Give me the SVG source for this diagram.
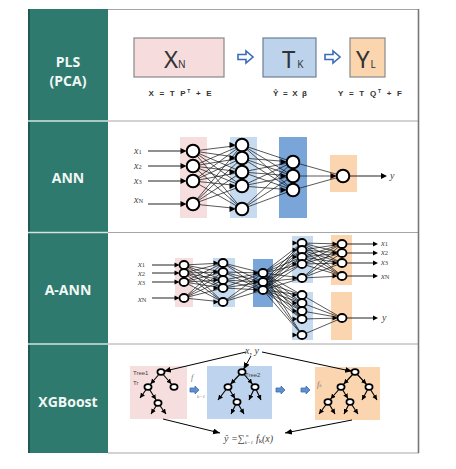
<svg xmlns="http://www.w3.org/2000/svg" xmlns:xlink="http://www.w3.org/1999/xlink" width="456" height="469" viewBox="0 0 456 469">
<style>
.lbl{font-family:"Open Sans","Liberation Sans",sans-serif;font-weight:bold;font-size:14px;fill:#f2f7f5;text-anchor:middle}
.big{font-family:"Noto Sans","Liberation Sans",sans-serif;fill:#333;font-size:24px}
.sub{font-size:10px}
.eq{font-family:"Liberation Sans",sans-serif;font-weight:bold;font-size:8px;fill:#333;text-anchor:middle}
.xi{font-family:"Liberation Serif",serif;font-style:italic;font-size:10px;fill:#444}
.xa{font-family:"Liberation Serif",serif;font-style:italic;font-size:8.5px;fill:#444}
.xs{font-size:6.5px;font-style:normal}
.conn{stroke:#111;stroke-width:0.7;fill:none}
.io{stroke:#222;stroke-width:1.1;fill:none}
.n{fill:#fff;stroke:#000;stroke-width:2}
.n2{fill:#fff;stroke:#000;stroke-width:1.8}
.tn{fill:#fff;stroke:#000;stroke-width:1.7}
.e{stroke:#000;stroke-width:1.1;fill:none}
.ea{stroke:#000;stroke-width:1;fill:none}
.pink{fill:#f6dede}
.lb{fill:#c6daf0}
.db{fill:#7aa5d9}
.or{fill:#fbd5b0}
.tiny{font-family:"Liberation Sans",sans-serif;font-size:6px;fill:#444}
.fi{font-family:"Liberation Serif",serif;font-style:italic;fill:#777}
</style>
<defs>
<path id="ah" d="M0 0L-6 -3L-6 3Z" fill="#000"/>
<path id="ah2" d="M0 0L-5 -2.5L-5 2.5Z" fill="#000"/>
<marker id="mn" markerUnits="userSpaceOnUse" markerWidth="10" markerHeight="6" refX="9" refY="2.5" orient="auto"><path d="M0 0L5 2.5L0 5Z" fill="#000"/></marker>
<marker id="ml" markerUnits="userSpaceOnUse" markerWidth="10" markerHeight="6" refX="5" refY="2.5" orient="auto"><path d="M0 0L5 2.5L0 5Z" fill="#000"/></marker>
<marker id="mb" markerUnits="userSpaceOnUse" markerWidth="10" markerHeight="8" refX="7" refY="3" orient="auto"><path d="M0 0L7 3L0 6Z" fill="#000"/></marker>
<marker id="mbn" markerUnits="userSpaceOnUse" markerWidth="12" markerHeight="8" refX="10" refY="3" orient="auto"><path d="M0 0L7 3L0 6Z" fill="#000"/></marker>
</defs>
<rect width="456" height="469" fill="#fff"/>

<g id="table">
<rect x="28" y="9" width="80" height="444" fill="#2e7a6e"/>
<rect x="28" y="9" width="2" height="444" fill="#1d5b52"/>
<path d="M28 121H108M28 232.5H108M28 344H108" stroke="#d4e4e0" stroke-width="1.5"/>
<path d="M108 9.5H419M108 121H419M108 232.5H419M108 344H419M108 453H419" stroke="#a6a6a6" stroke-width="1"/>
<path d="M418.5 9V453" stroke="#777" stroke-width="1.6"/>
<text class="lbl" x="68" y="67">PLS</text>
<text class="lbl" x="68" y="86">(PCA)</text>
<text class="lbl" x="68" y="183">ANN</text>
<text class="lbl" x="68" y="295">A-ANN</text>
<text class="lbl" x="68" y="407">XGBoost</text>
</g>

<g id="pls">
<g id="node-xn">
<rect x="134" y="38" width="90" height="39" fill="#f6dcdc" stroke="#888" stroke-width="1.2"/>
<text class="big" x="164" y="68">X<tspan class="sub">N</tspan></text>
</g>
<g id="node-tk">
<rect x="263" y="38" width="53" height="39" fill="#bdd3ec" stroke="#6d7f96" stroke-width="1.2"/>
<text class="big" x="282" y="68">T<tspan class="sub" dx="2">K</tspan></text>
</g>
<g id="node-yl">
<rect x="350" y="38" width="35" height="39" fill="#fbd5ae" stroke="#8a8a8a" stroke-width="1.2"/>
<text class="big" x="356" y="68">Y<tspan class="sub" dx="1">L</tspan></text>
</g>
<polygon points="238,54.5 246,54.5 246,51 253,57 246,63 246,59.5 238,59.5" fill="#fff" stroke="#3a6db5" stroke-width="1.6"/>
<polygon points="325,54.5 333,54.5 333,51 340,57 333,63 333,59.5 325,59.5" fill="#fff" stroke="#3a6db5" stroke-width="1.6"/>
<text class="eq" x="180" y="96" textLength="63" lengthAdjust="spacing">X = T P<tspan font-size="5" dy="-3">T</tspan><tspan dy="3"> + E</tspan></text>
<text class="eq" x="290" y="96" textLength="34" lengthAdjust="spacing">Ŷ = X β</text>
<text class="eq" x="370" y="96" textLength="64" lengthAdjust="spacing">Y = T Q<tspan font-size="5" dy="-3">T</tspan><tspan dy="3"> + F</tspan></text>
</g>

<g id="ann">
<rect class="pink" x="180" y="137" width="27" height="81"/>
<rect class="lb" x="230" y="137" width="27" height="81"/>
<rect class="db" x="279" y="137" width="28" height="81"/>
<rect class="or" x="330" y="155" width="27" height="37"/>
<g id="ann-connectors">
<path class="conn" d="M193 151L242 145M193 151L242 158M193 151L242 172M193 151L242 186M193 151L242 209M193 166L242 145M193 166L242 158M193 166L242 172M193 166L242 186M193 166L242 209M193 181L242 145M193 181L242 158M193 181L242 172M193 181L242 186M193 181L242 209M193 204L242 145M193 204L242 158M193 204L242 172M193 204L242 186M193 204L242 209"/>
<path class="conn" d="M242 145L293 162M242 145L293 176M242 145L293 190M242 158L293 162M242 158L293 176M242 158L293 190M242 172L293 162M242 172L293 176M242 172L293 190M242 186L293 162M242 186L293 176M242 186L293 190M242 209L293 162M242 209L293 176M242 209L293 190"/>
<path class="conn" d="M293 162L343 176M293 176L343 176M293 190L343 176"/>
<path class="io" d="M148 151H182M148 166H182M148 181H182M148 204H182M350 176H382"/>
<use xlink:href="#ah" x="186.5" y="151"/><use xlink:href="#ah" x="186.5" y="166"/><use xlink:href="#ah" x="186.5" y="181"/><use xlink:href="#ah" x="186.5" y="204"/>
<use xlink:href="#ah" x="235.5" y="145"/><use xlink:href="#ah" x="235.5" y="158"/><use xlink:href="#ah" x="235.5" y="172"/><use xlink:href="#ah" x="235.5" y="186"/><use xlink:href="#ah" x="235.5" y="209"/>
<use xlink:href="#ah" x="286.5" y="162"/><use xlink:href="#ah" x="286.5" y="176"/><use xlink:href="#ah" x="286.5" y="190"/>
<use xlink:href="#ah" x="336.5" y="176"/>
<use xlink:href="#ah" x="387" y="176"/>
</g>
<g id="ann-nodes">
<circle class="n" cx="193" cy="151" r="6.3"/><circle class="n" cx="193" cy="166" r="6.3"/><circle class="n" cx="193" cy="181" r="6.3"/><circle class="n" cx="193" cy="204" r="6.3"/>
<circle class="n" cx="242" cy="145" r="6.3"/><circle class="n" cx="242" cy="158" r="6.3"/><circle class="n" cx="242" cy="172" r="6.3"/><circle class="n" cx="242" cy="186" r="6.3"/><circle class="n" cx="242" cy="209" r="6.3"/>
<circle class="n" cx="293" cy="162" r="6.3"/><circle class="n" cx="293" cy="176" r="6.3"/><circle class="n" cx="293" cy="190" r="6.3"/>
<circle class="n" cx="343" cy="176" r="6.3"/>
</g>
<text class="xi" x="134" y="154">x<tspan class="xs">1</tspan></text>
<text class="xi" x="134" y="169">x<tspan class="xs">2</tspan></text>
<text class="xi" x="134" y="184">x<tspan class="xs">3</tspan></text>
<text class="xi" x="134" y="203">x<tspan class="xs">N</tspan></text>
<text class="xi" x="390" y="179">y</text>
</g>

<g id="a-ann">
<rect class="pink" x="175" y="258" width="18" height="49"/>
<rect class="lb" x="213" y="258" width="22" height="49"/>
<rect class="db" x="253" y="259" width="20" height="48"/>
<rect class="lb" x="292" y="236" width="21" height="47"/>
<rect class="lb" x="292" y="292" width="21" height="48"/>
<rect class="or" x="331" y="235" width="21" height="50"/>
<rect class="or" x="331" y="292" width="21" height="48"/>
<g id="a-ann-connectors">
<path class="conn" d="M184 265L223 263M184 265L223 272M184 265L223 280M184 265L223 288M184 265L223 302M184 273L223 263M184 273L223 272M184 273L223 280M184 273L223 288M184 273L223 302M184 282L223 263M184 282L223 272M184 282L223 280M184 282L223 288M184 282L223 302M184 298L223 263M184 298L223 272M184 298L223 280M184 298L223 288M184 298L223 302"/>
<path class="conn" d="M223 263L263 273M223 263L263 282M223 263L263 290M223 272L263 273M223 272L263 282M223 272L263 290M223 280L263 273M223 280L263 282M223 280L263 290M223 288L263 273M223 288L263 282M223 288L263 290M223 302L263 273M223 302L263 282M223 302L263 290"/>
<path class="conn" d="M263 273L302 243M263 273L302 250M263 273L302 257M263 273L302 264M263 273L302 278M263 282L302 243M263 282L302 250M263 282L302 257M263 282L302 264M263 282L302 278M263 290L302 243M263 290L302 250M263 290L302 257M263 290L302 264M263 290L302 278M263 273L302 295M263 273L302 303M263 273L302 311M263 273L302 319M263 273L302 335M263 282L302 295M263 282L302 303M263 282L302 311M263 282L302 319M263 282L302 335M263 290L302 295M263 290L302 303M263 290L302 311M263 290L302 319M263 290L302 335"/>
<path class="conn" d="M302 243L342 244M302 243L342 253M302 243L342 263M302 243L342 276M302 250L342 244M302 250L342 253M302 250L342 263M302 250L342 276M302 257L342 244M302 257L342 253M302 257L342 263M302 257L342 276M302 264L342 244M302 264L342 253M302 264L342 263M302 264L342 276M302 278L342 244M302 278L342 253M302 278L342 263M302 278L342 276"/>
<path class="conn" d="M302 295L342 318M302 303L342 318M302 311L342 318M302 319L342 318M302 335L342 318"/>
<path class="io" d="M152 265H176M152 273H176M152 282H176M152 298H176M346 244H373M346 253H373M346 263H373M346 276H373M346 318H373"/>
<use xlink:href="#ah2" x="179.5" y="265"/><use xlink:href="#ah2" x="179.5" y="273"/><use xlink:href="#ah2" x="179.5" y="282"/><use xlink:href="#ah2" x="179.5" y="298"/>
<use xlink:href="#ah2" x="218.5" y="263"/><use xlink:href="#ah2" x="218.5" y="272"/><use xlink:href="#ah2" x="218.5" y="280"/><use xlink:href="#ah2" x="218.5" y="288"/><use xlink:href="#ah2" x="218.5" y="302"/>
<use xlink:href="#ah2" x="258.5" y="273"/><use xlink:href="#ah2" x="258.5" y="282"/><use xlink:href="#ah2" x="258.5" y="290"/>
<use xlink:href="#ah2" x="297.5" y="243"/><use xlink:href="#ah2" x="297.5" y="250"/><use xlink:href="#ah2" x="297.5" y="257"/><use xlink:href="#ah2" x="297.5" y="264"/><use xlink:href="#ah2" x="297.5" y="278"/>
<use xlink:href="#ah2" x="297.5" y="295"/><use xlink:href="#ah2" x="297.5" y="303"/><use xlink:href="#ah2" x="297.5" y="311"/><use xlink:href="#ah2" x="297.5" y="319"/><use xlink:href="#ah2" x="297.5" y="335"/>
<use xlink:href="#ah2" x="337.5" y="244"/><use xlink:href="#ah2" x="337.5" y="253"/><use xlink:href="#ah2" x="337.5" y="263"/><use xlink:href="#ah2" x="337.5" y="276"/><use xlink:href="#ah2" x="337.5" y="318"/>
<use xlink:href="#ah2" x="378" y="244"/><use xlink:href="#ah2" x="378" y="253"/><use xlink:href="#ah2" x="378" y="263"/><use xlink:href="#ah2" x="378" y="276"/><use xlink:href="#ah2" x="378" y="318"/>
</g>
<g id="a-ann-nodes">
<ellipse class="n2" cx="184" cy="265" rx="4.5" ry="4"/><ellipse class="n2" cx="184" cy="273" rx="4.5" ry="4"/><ellipse class="n2" cx="184" cy="282" rx="4.5" ry="4"/><ellipse class="n2" cx="184" cy="298" rx="4.5" ry="4"/>
<ellipse class="n2" cx="223" cy="263" rx="4.5" ry="4"/><ellipse class="n2" cx="223" cy="272" rx="4.5" ry="4"/><ellipse class="n2" cx="223" cy="280" rx="4.5" ry="4"/><ellipse class="n2" cx="223" cy="288" rx="4.5" ry="4"/><ellipse class="n2" cx="223" cy="302" rx="4.5" ry="4"/>
<ellipse class="n2" cx="263" cy="273" rx="4.5" ry="4"/><ellipse class="n2" cx="263" cy="282" rx="4.5" ry="4"/><ellipse class="n2" cx="263" cy="290" rx="4.5" ry="4"/>
<ellipse class="n2" cx="302" cy="243" rx="4.5" ry="4"/><ellipse class="n2" cx="302" cy="250" rx="4.5" ry="4"/><ellipse class="n2" cx="302" cy="257" rx="4.5" ry="4"/><ellipse class="n2" cx="302" cy="264" rx="4.5" ry="4"/><ellipse class="n2" cx="302" cy="278" rx="4.5" ry="4"/>
<ellipse class="n2" cx="302" cy="295" rx="4.5" ry="4"/><ellipse class="n2" cx="302" cy="303" rx="4.5" ry="4"/><ellipse class="n2" cx="302" cy="311" rx="4.5" ry="4"/><ellipse class="n2" cx="302" cy="319" rx="4.5" ry="4"/><ellipse class="n2" cx="302" cy="335" rx="4.5" ry="4"/>
<ellipse class="n2" cx="342" cy="244" rx="4.5" ry="4"/><ellipse class="n2" cx="342" cy="253" rx="4.5" ry="4"/><ellipse class="n2" cx="342" cy="263" rx="4.5" ry="4"/><ellipse class="n2" cx="342" cy="276" rx="4.5" ry="4"/>
<ellipse class="n2" cx="342" cy="318" rx="4.5" ry="4"/>
</g>
<text class="xa" x="138" y="267">x<tspan class="xs">1</tspan></text>
<text class="xa" x="138" y="276">x<tspan class="xs">2</tspan></text>
<text class="xa" x="138" y="285">x<tspan class="xs">3</tspan></text>
<text class="xa" x="138" y="302">x<tspan class="xs">N</tspan></text>
<text class="xa" x="381" y="246">x<tspan class="xs">1</tspan></text>
<text class="xa" x="381" y="255">x<tspan class="xs">2</tspan></text>
<text class="xa" x="381" y="265">x<tspan class="xs">3</tspan></text>
<text class="xa" x="381" y="279">x<tspan class="xs">N</tspan></text>
<text class="xi" x="382" y="321">y</text>
</g>

<g id="xgboost">
<rect class="pink" x="130" y="366" width="57" height="53"/>
<rect fill="#bed4ee" x="207" y="366" width="65" height="53"/>
<rect class="or" x="315" y="367" width="65" height="53"/>
<text class="tiny" x="133" y="375">Tree1</text>
<text class="tiny" x="133" y="385">Tr</text>
<text class="tiny" x="245" y="377">Tree2</text>
<text class="fi" x="191" y="380" font-size="8">f</text>
<text class="fi" x="197" y="398" font-size="5">k−1</text>
<text class="fi" x="317" y="387" font-size="8">f<tspan font-size="5">k</tspan></text>
<polygon points="190,388 195,388 195,386 199,390 195,394 195,392 190,392" fill="#5f8fcf" stroke="#3b6db3" stroke-width="0.8"/>
<polygon points="276,388 281,388 281,386 285,390 281,394 281,392 276,392" fill="#5f8fcf" stroke="#3b6db3" stroke-width="0.8"/>
<polygon points="301,388 306,388 306,386 310,390 306,394 306,392 301,392" fill="#5f8fcf" stroke="#3b6db3" stroke-width="0.8"/>
<g id="xgb-connectors">
<path class="ea" d="M246 352L161 372" marker-end="url(#mbn)"/>
<path class="ea" d="M262 352L355 372" marker-end="url(#mbn)"/>
<path class="ea" d="M251 356L242 372" marker-end="url(#mbn)"/>
<path class="ea" d="M163 419L220 433" marker-end="url(#mb)"/>
<path class="ea" d="M352 420L285 433" marker-end="url(#mb)"/>
<path class="e" d="M161 372L148 387" marker-end="url(#mn)"/>
<path class="e" d="M161 372L174 387" marker-end="url(#mn)"/>
<path class="e" d="M148 387L140 398" marker-end="url(#ml)"/>
<path class="e" d="M148 387L158 403" marker-end="url(#mn)"/>
<path class="e" d="M158 403L151 414" marker-end="url(#ml)"/>
<path class="e" d="M158 403L166 414" marker-end="url(#ml)"/>
<path class="e" d="M242 372L228 387" marker-end="url(#mn)"/>
<path class="e" d="M242 372L255 387" marker-end="url(#mn)"/>
<path class="e" d="M228 387L218 400" marker-end="url(#ml)"/>
<path class="e" d="M228 387L237 402" marker-end="url(#mn)"/>
<path class="e" d="M237 402L231 414" marker-end="url(#ml)"/>
<path class="e" d="M237 402L244 414" marker-end="url(#ml)"/>
<path class="e" d="M255 387L249 400" marker-end="url(#ml)"/>
<path class="e" d="M255 387L261 400" marker-end="url(#ml)"/>
<path class="e" d="M355 372L341 387" marker-end="url(#mn)"/>
<path class="e" d="M355 372L369 387" marker-end="url(#mn)"/>
<path class="e" d="M341 387L328 402" marker-end="url(#mn)"/>
<path class="e" d="M341 387L350 402" marker-end="url(#mn)"/>
<path class="e" d="M328 402L319 414" marker-end="url(#ml)"/>
<path class="e" d="M328 402L335 414" marker-end="url(#ml)"/>
<path class="e" d="M350 402L344 414" marker-end="url(#ml)"/>
<path class="e" d="M350 402L358 414" marker-end="url(#ml)"/>
<path class="e" d="M369 387L362 400" marker-end="url(#ml)"/>
<path class="e" d="M369 387L377 400" marker-end="url(#ml)"/>
</g>
<g id="xgb-nodes">
<ellipse class="tn" cx="161" cy="372" rx="3.6" ry="2.8"/><ellipse class="tn" cx="148" cy="387" rx="3.6" ry="2.8"/><ellipse class="tn" cx="174" cy="387" rx="3.6" ry="2.8"/><ellipse class="tn" cx="158" cy="403" rx="3.6" ry="2.8"/>
<ellipse class="tn" cx="242" cy="372" rx="3.6" ry="2.8"/><ellipse class="tn" cx="228" cy="387" rx="3.6" ry="2.8"/><ellipse class="tn" cx="255" cy="387" rx="3.6" ry="2.8"/><ellipse class="tn" cx="237" cy="402" rx="3.6" ry="2.8"/>
<ellipse class="tn" cx="355" cy="372" rx="3.6" ry="2.8"/><ellipse class="tn" cx="341" cy="387" rx="3.6" ry="2.8"/><ellipse class="tn" cx="369" cy="387" rx="3.6" ry="2.8"/><ellipse class="tn" cx="328" cy="402" rx="3.6" ry="2.8"/><ellipse class="tn" cx="350" cy="402" rx="3.6" ry="2.8"/>
</g>
<text class="xi" x="245" y="354">x, y</text>
<text class="xi" x="224" y="442">ŷ =∑<tspan font-size="5" dy="2">k=1</tspan><tspan font-size="5" dx="-7" dy="-7">n</tspan><tspan dx="5" dy="5"> f</tspan><tspan class="xs" font-style="italic" dy="1">k</tspan><tspan dy="-1">(x)</tspan></text>
</g>
</svg>
